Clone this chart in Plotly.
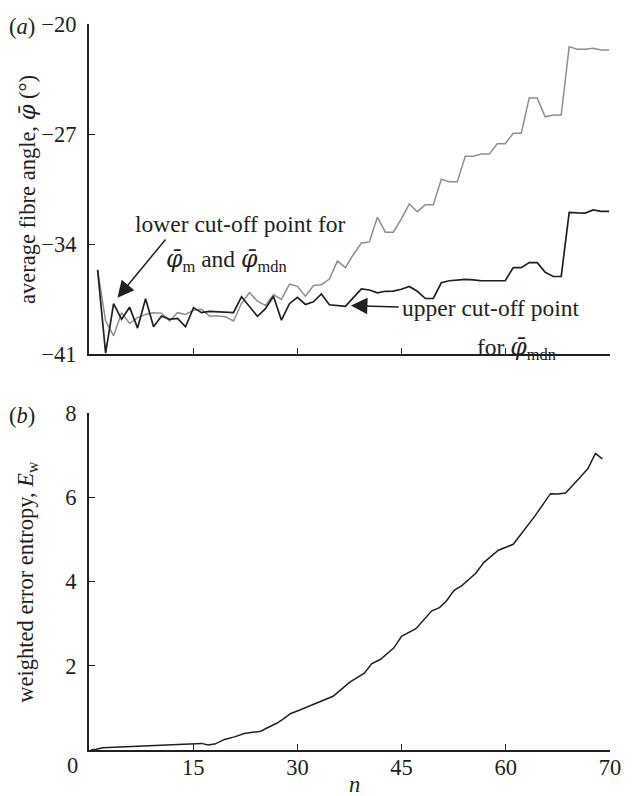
import plotly.graph_objects as go

# ---------------- data ----------------
# sample positions along the horizontal axis (axis units; last tick is labelled "70")
n_top = [round(1.24 + 1.1506 * i, 3) for i in range(65)]

# black line: average fibre angle, median estimator
phi_mdn = [-35.63, -40.92, -37.78, -38.77, -38.00, -39.33, -37.47, -39.25, -38.56, -38.77,
           -38.71, -39.25, -38.03, -38.35, -38.27, -38.29, -38.32, -38.35, -37.34, -37.95,
           -38.58, -38.10, -37.31, -38.83, -37.78, -37.37, -37.83, -37.66, -37.16, -37.85,
           -37.89, -37.95, -37.39, -36.84, -36.91, -37.09, -36.99, -36.98, -36.86, -36.68,
           -36.99, -37.45, -37.45, -36.45, -36.32, -36.29, -36.23, -36.26, -36.32, -36.32,
           -36.32, -36.32, -35.49, -35.49, -35.17, -35.17, -35.78, -36.05, -36.05, -31.97,
           -32.01, -32.02, -31.82, -31.91, -31.91]

# grey line: average fibre angle, mean estimator
phi_m = [-35.63, -38.88, -39.82, -38.35, -39.04, -38.66, -38.46, -38.35, -38.39, -38.88,
         -38.35, -38.46, -38.20, -38.14, -38.56, -38.56, -38.61, -38.88, -37.77, -37.06,
         -37.62, -37.89, -37.20, -37.51, -36.53, -36.68, -37.31, -36.62, -36.57, -36.21,
         -35.07, -35.49, -34.65, -33.92, -33.85, -32.28, -33.23, -33.23, -32.39, -31.44,
         -31.93, -31.49, -31.49, -29.87, -30.03, -30.03, -28.41, -28.41, -28.27, -28.27,
         -27.61, -27.61, -26.95, -26.95, -24.71, -24.71, -25.90, -25.79, -25.79, -21.44,
         -21.61, -21.61, -21.55, -21.65, -21.65]

# bottom panel: weighted error entropy
n_bot = [0.24, 1.05, 1.99, 5.31, 8.62, 11.93, 14.55, 16.19, 17.14, 18.10, 19.52, 20.94,
         22.36, 23.54, 24.72, 25.91, 27.09, 28.04, 28.98, 30.17, 31.35, 33.01, 35.14, 37.50,
         39.63, 40.72, 41.93, 43.89, 44.99, 47.05, 49.35, 50.45, 51.42, 52.56, 53.72, 55.68,
         56.82, 58.93, 61.07, 64.26, 66.43, 67.47, 68.60, 70.74, 71.83, 72.90, 73.90]
E_w = [0.0, 0.016, 0.054, 0.077, 0.10, 0.134, 0.157, 0.157, 0.117, 0.141, 0.251, 0.312,
       0.392, 0.415, 0.446, 0.547, 0.641, 0.744, 0.861, 0.939, 1.016, 1.134, 1.275, 1.603,
       1.824, 2.054, 2.148, 2.425, 2.70, 2.88, 3.303, 3.38, 3.53, 3.79, 3.91, 4.195,
       4.448, 4.742, 4.883, 5.570, 6.085, 6.08, 6.103, 6.479, 6.683, 7.042, 6.913]

top_ytick_vals = [-20, -27, -34, -41]
top_ytick_text = ["\u221220", "\u221227", "\u221234", "\u221241"]
top_xtick_vals = [15, 30, 45, 60]
bot_xtick_vals = [15, 30, 45, 60, 75]
bot_xtick_text = ["15", "30", "45", "60", "70"]
bot_ytick_vals = [2, 4, 6, 8]
bot_ytick_text = ["2", "4", "6", "8"]

# ---------------- style ----------------
INK = "#231f20"
GREY = "#8e8e8e"
FONT = "Liberation Serif, Times New Roman, serif"
TICK_SIZE = 22.5
TEXT_SIZE = 23.5

W, H = 633, 796
ML, MR, MT, MB = 89, 16, 16, 46
PW, PH = W - ML - MR, H - MT - MB


def px(xp):
    return (xp - ML) / PW


def py(yp):
    return (H - MB - yp) / PH


fig = go.Figure()
fig.add_trace(go.Scatter(x=n_top, y=phi_m, mode="lines",
                         line=dict(color=GREY, width=1.5), xaxis="x", yaxis="y",
                         showlegend=False, hoverinfo="skip"))
fig.add_trace(go.Scatter(x=n_top, y=phi_mdn, mode="lines",
                         line=dict(color=INK, width=1.7), xaxis="x", yaxis="y",
                         showlegend=False, hoverinfo="skip"))
fig.add_trace(go.Scatter(x=n_bot, y=E_w, mode="lines",
                         line=dict(color=INK, width=1.5), xaxis="x2", yaxis="y2",
                         showlegend=False, hoverinfo="skip"))

axis_common = dict(showline=True, linecolor=INK, linewidth=2, ticks="inside",
                   ticklen=6, tickwidth=1.4, tickcolor=INK, showgrid=False,
                   zeroline=False, tickfont=dict(family=FONT, size=TICK_SIZE, color=INK))

fig.update_layout(
    width=W, height=H,
    margin=dict(l=ML, r=MR, t=MT, b=MB, pad=0),
    paper_bgcolor="white", plot_bgcolor="white",
    xaxis=dict(axis_common, domain=[0, 1], range=[0, 75], anchor="y",
               tickmode="array", tickvals=top_xtick_vals, showticklabels=False),
    yaxis=dict(axis_common, domain=[py(350), 1], range=[-41, -20], anchor="x",
               tickmode="array", tickvals=top_ytick_vals, ticktext=top_ytick_text,
               ticklabelstandoff=6),
    xaxis2=dict(axis_common, domain=[0, 1], range=[0, 75], anchor="y2",
                tickmode="array", tickvals=bot_xtick_vals, ticktext=bot_xtick_text,
                ticklabelstandoff=-4),
    yaxis2=dict(axis_common, domain=[0, py(409.3)], range=[0, 8], anchor="x2",
                tickmode="array", tickvals=bot_ytick_vals, ticktext=bot_ytick_text,
                ticklabelstandoff=6),
)

tf = dict(family=FONT, size=TEXT_SIZE, color=INK)
lf = dict(family=FONT, size=TICK_SIZE, color=INK)
phibar = "<span style=\"font-family:'DejaVu Serif'\"><i>\u03c6\u0304</i></span>"

ann = [
    # panel labels
    dict(text="(<i>a</i>)", xref="paper", yref="paper", x=px(21.5), y=py(19),
         showarrow=False, font=lf, xanchor="center", yanchor="middle"),
    dict(text="(<i>b</i>)", xref="paper", yref="paper", x=px(21.5), y=py(412),
         showarrow=False, font=lf, xanchor="center", yanchor="middle"),
    # axis titles
    dict(text="average fibre angle, " + phibar + " (\u00b0)", xref="paper", yref="paper",
         x=px(26), y=py(183), textangle=-90, showarrow=False, font=lf,
         xanchor="center", yanchor="middle"),
    dict(text="weighted error entropy, <i>E</i><sub>w</sub>", xref="paper", yref="paper",
         x=px(26), y=py(580), textangle=-90, showarrow=False, font=lf,
         xanchor="center", yanchor="middle"),
    dict(text="<i>n</i>", xref="paper", yref="paper", x=px(358), y=py(785),
         showarrow=False, font=lf, xanchor="center", yanchor="middle"),
    dict(text="0", xref="paper", yref="paper", x=px(72.5), y=py(766),
         showarrow=False, font=lf, xanchor="center", yanchor="middle"),
    # top-panel annotations
    dict(text="lower cut-off point for", xref="paper", yref="paper", x=px(243), y=py(218),
         showarrow=False, font=tf, xanchor="center", yanchor="middle"),
    dict(text=phibar + "<sub>m</sub> and " + phibar + "<sub>mdn</sub>", xref="paper",
         yref="paper", x=px(228), y=py(255), showarrow=False, font=tf,
         xanchor="center", yanchor="middle"),
    dict(text="upper cut-off point", xref="paper", yref="paper", x=px(496), y=py(303),
         showarrow=False, font=tf, xanchor="center", yanchor="middle"),
    dict(text="for " + phibar + "<sub>mdn</sub>", xref="paper", yref="paper",
         x=px(522), y=py(344), showarrow=False, font=tf, xanchor="center", yanchor="middle"),
    # arrows (tip and tail in data coordinates)
    dict(text="", xref="x", yref="y", x=4.1, y=-37.4, axref="x", ayref="y",
         ax=11.2, ay=-33.6, showarrow=True, arrowhead=2, arrowsize=2.2,
         arrowwidth=1.5, arrowcolor=INK, standoff=0),
    dict(text="", xref="x", yref="y", x=37.7, y=-37.9, axref="x", ayref="y",
         ax=44.8, ay=-38.0, showarrow=True, arrowhead=2, arrowsize=2.2,
         arrowwidth=1.5, arrowcolor=INK, standoff=0),
]
fig.update_layout(annotations=ann)

fig.write_html("out.html")
